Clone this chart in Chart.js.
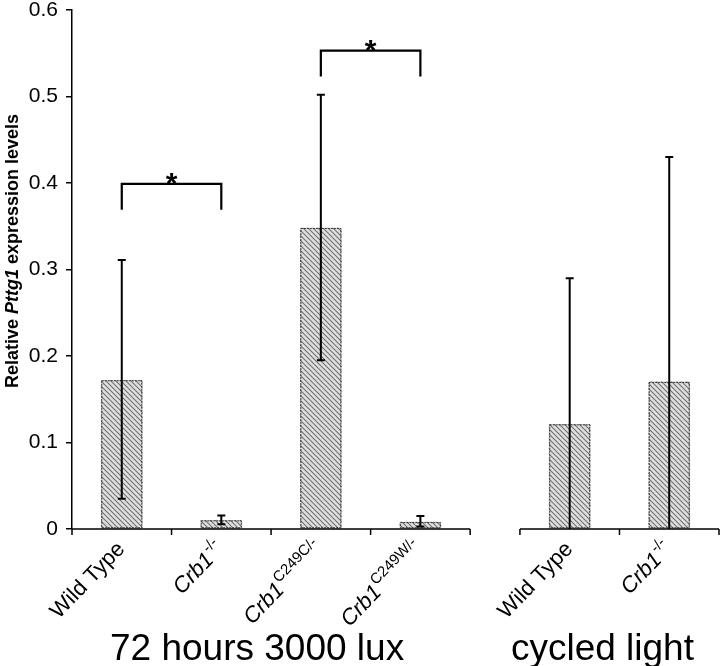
<!DOCTYPE html>
<html>
<head>
<meta charset="utf-8">
<script src="https://cdn.jsdelivr.net/npm/chart.js@4.4.0/dist/chart.umd.min.js"></script>
<style>
  html, body { margin: 0; padding: 0; background: #fff; }
  #wrap { width: 720px; height: 666px; }
</style>
</head>
<body>
<div id="wrap"><canvas id="chart" width="720" height="666"></canvas></div>
<script>
// Data
const labelMain = ['Wild Type', 'Crb1', 'Crb1', 'Crb1', 'Wild Type', 'Crb1'];
const labelSup = ['', '-/-', 'C249C/-', 'C249W/-', '', '-/-'];
const positions = [0.5, 1.5, 2.5, 3.5, 5.0, 6.0];
const values = [0.172, 0.010, 0.348, 0.008, 0.121, 0.170];
const errLow = [0.035, 0.0055, 0.195, 0.003, 0.0, 0.0];
const errHigh = [0.311, 0.0155, 0.502, 0.015, 0.290, 0.430];
const yTicks = [0, 0.1, 0.2, 0.3, 0.4, 0.5, 0.6];
const groups = ['72 hours 3000 lux', 'cycled light'];
const groupSpan = [[0, 4], [4.5, 6.5]];
// significance brackets: from bar, to bar, bracket top, leg bottom
const bracketFrom = [0, 2];
const bracketTo = [1, 3];
const bracketTop = [0.399, 0.553];
const bracketLeg = [0.369, 0.523];

const FONT = '"Liberation Sans", Arial, sans-serif';

function hatch() {
  const c = document.createElement('canvas');
  c.width = 5; c.height = 5;
  const g = c.getContext('2d');
  g.fillStyle = '#e0e0e0';
  g.fillRect(0, 0, 5, 5);
  g.strokeStyle = '#707070';
  g.lineWidth = 1.1;
  g.beginPath();
  g.moveTo(0, 0); g.lineTo(5, 5);
  g.moveTo(-1, 4); g.lineTo(1, 6);
  g.moveTo(4, -1); g.lineTo(6, 1);
  g.stroke();
  return g.createPattern(c, 'repeat');
}

const extras = {
  id: 'extras',
  afterDatasetsDraw(chart) {
    const ctx = chart.ctx;
    const xs = chart.scales.x, ys = chart.scales.y;
    const meta = chart.getDatasetMeta(0);

    // dashed bar outlines
    ctx.save();
    ctx.strokeStyle = '#333';
    ctx.lineWidth = 1;
    ctx.setLineDash([2, 1]);
    meta.data.forEach(bar => {
      const w = bar.width;
      ctx.strokeRect(bar.x - w / 2 + 0.5, bar.y + 0.5, w - 1, bar.base - bar.y - 1);
    });
    ctx.restore();

    // error bars
    ctx.save();
    ctx.strokeStyle = '#000';
    ctx.lineWidth = 2;
    positions.forEach((p, i) => {
      const x = xs.getPixelForValue(p);
      const yh = ys.getPixelForValue(errHigh[i]);
      const yl = ys.getPixelForValue(errLow[i]);
      ctx.beginPath();
      ctx.moveTo(x, yh); ctx.lineTo(x, yl);
      ctx.moveTo(x - 4, yh); ctx.lineTo(x + 4, yh);
      if (errLow[i] > 0) { ctx.moveTo(x - 4, yl); ctx.lineTo(x + 4, yl); }
      ctx.stroke();
    });
    ctx.restore();

    // brackets with stars
    ctx.save();
    ctx.strokeStyle = '#000';
    ctx.lineWidth = 2.2;
    ctx.fillStyle = '#000';
    ctx.font = 'bold 30px ' + FONT;
    ctx.textAlign = 'center';
    ctx.textBaseline = 'alphabetic';
    bracketFrom.forEach((f, i) => {
      const x1 = xs.getPixelForValue(positions[f]);
      const x2 = xs.getPixelForValue(positions[bracketTo[i]]);
      const yt = ys.getPixelForValue(bracketTop[i]);
      const yb = ys.getPixelForValue(bracketLeg[i]);
      ctx.beginPath();
      ctx.moveTo(x1, yb); ctx.lineTo(x1, yt); ctx.lineTo(x2, yt); ctx.lineTo(x2, yb);
      ctx.stroke();
      ctx.fillText('*', (x1 + x2) / 2, yt + 9);
    });
    ctx.restore();
  },
  afterDraw(chart) {
    const ctx = chart.ctx;
    const xs = chart.scales.x;
    const area = chart.chartArea;
    const y0 = area.bottom;

    // broken x axis
    ctx.save();
    ctx.strokeStyle = '#000';
    ctx.lineWidth = 1.5;
    groupSpan.forEach(span => {
      const a = xs.getPixelForValue(span[0]);
      const b = xs.getPixelForValue(span[1]);
      ctx.beginPath();
      ctx.moveTo(a, y0); ctx.lineTo(b, y0);
      for (let v = span[0]; v <= span[1] + 1e-6; v += 1) {
        const t = xs.getPixelForValue(v);
        ctx.moveTo(t, y0); ctx.lineTo(t, y0 + 6);
      }
      ctx.stroke();
    });
    ctx.restore();

    // rotated category labels
    ctx.save();
    ctx.fillStyle = '#000';
    ctx.textBaseline = 'alphabetic';
    positions.forEach((p, i) => {
      const cx = xs.getPixelForValue(p);
      const italic = labelMain[i] !== 'Wild Type';
      const mainFont = (italic ? 'italic ' : '') + '22px ' + FONT;
      const supFont = '15px ' + FONT;
      ctx.font = mainFont;
      const wm = ctx.measureText(labelMain[i]).width;
      ctx.font = supFont;
      const wsup = labelSup[i] ? ctx.measureText(labelSup[i]).width : 0;
      const total = wm + wsup + (labelSup[i] ? 1 : 0);
      ctx.save();
      ctx.translate(cx + 4, y0 + 21);
      ctx.rotate(-46 * Math.PI / 180);
      ctx.textAlign = 'left';
      ctx.font = mainFont;
      ctx.fillText(labelMain[i], -total, 0);
      if (labelSup[i]) {
        ctx.font = supFont;
        ctx.fillText(labelSup[i], -wsup, -10);
      }
      ctx.restore();
    });
    ctx.restore();

    // group captions
    ctx.save();
    ctx.fillStyle = '#000';
    ctx.font = '37px ' + FONT;
    ctx.textAlign = 'center';
    ctx.textBaseline = 'alphabetic';
    groups.forEach((g, i) => {
      const a = xs.getPixelForValue(groupSpan[i][0]);
      const b = xs.getPixelForValue(groupSpan[i][1]);
      ctx.fillText(g, (a + b) / 2 - (i === 0 ? 14 : 17), 660);
    });
    ctx.restore();

    // y axis title with italic gene name
    ctx.save();
    ctx.fillStyle = '#000';
    ctx.translate(18, 251);
    ctx.rotate(-Math.PI / 2);
    ctx.textBaseline = 'alphabetic';
    ctx.textAlign = 'left';
    const parts = [['Relative ', 'bold '], ['Pttg1', 'italic bold '], [' expression levels', 'bold ']];
    let tw = 0;
    parts.forEach(pt => { ctx.font = pt[1] + '18px ' + FONT; tw += ctx.measureText(pt[0]).width; });
    let x = -tw / 2;
    parts.forEach(pt => {
      ctx.font = pt[1] + '18px ' + FONT;
      ctx.fillText(pt[0], x, 0);
      x += ctx.measureText(pt[0]).width;
    });
    ctx.restore();
  }
};

new Chart(document.getElementById('chart'), {
  type: 'bar',
  data: {
    datasets: [{
      data: positions.map((p, i) => ({ x: p, y: values[i] })),
      backgroundColor: hatch(),
      borderWidth: 0,
      barThickness: 41
    }]
  },
  options: {
    responsive: false,
    animation: false,
    events: [],
    layout: { padding: { top: 10, bottom: 137, left: 0, right: 1 } },
    plugins: { legend: { display: false }, tooltip: { enabled: false } },
    scales: {
      x: {
        type: 'linear',
        min: 0,
        max: 6.5,
        offset: false,
        display: false
      },
      y: {
        min: 0,
        max: 0.6,
        afterFit(scale) {
          scale.width = 72;
          scale.paddingTop = 0;
          scale.paddingBottom = 0;
        },
        afterBuildTicks(scale) { scale.ticks = yTicks.map(v => ({ value: v })); },
        border: { display: true, color: '#000', width: 1.5 },
        grid: { drawOnChartArea: false, drawTicks: true, tickLength: 6, color: '#000', lineWidth: 1.5 },
        ticks: {
          color: '#000',
          padding: 8,
          font: { family: FONT, size: 21 },
          callback: v => (v === 0 ? '0' : v.toFixed(1))
        }
      }
    }
  },
  plugins: [extras]
});
</script>
</body>
</html>
